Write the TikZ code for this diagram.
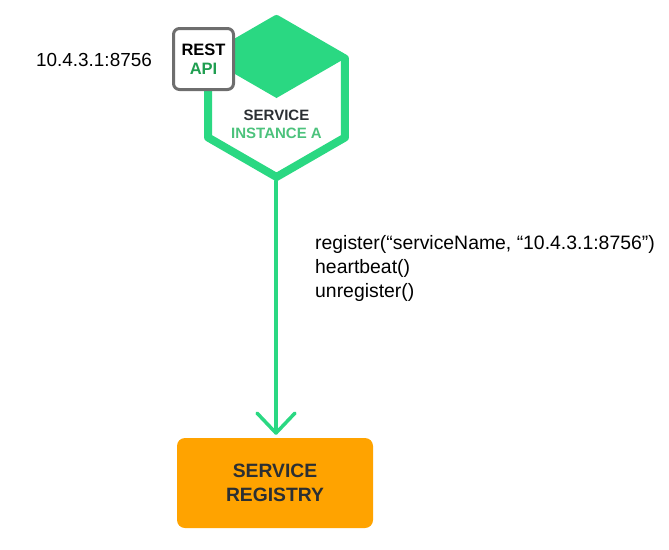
\documentclass[tikz,border=0pt]{standalone}
\usepackage{fontspec}
\setmainfont{Liberation Sans}
\usetikzlibrary{arrows.meta}
\definecolor{hexgreen}{HTML}{2AD882}
\definecolor{apigreen}{HTML}{1F9E50}
\definecolor{instgreen}{HTML}{4CC27C}
\definecolor{regorange}{HTML}{FFA300}
\definecolor{darktext}{HTML}{2B2F33}
\definecolor{boxgray}{HTML}{6E6E6E}
\tikzset{
  hexline/.style={draw=hexgreen, line width=8pt, line join=round},
  hexfill/.style={fill=hexgreen},
  restbox/.style={draw=boxgray, fill=white, line width=3pt, rounded corners=6pt, minimum width=60pt, minimum height=61pt, inner sep=0pt},
  regbox/.style={fill=regorange, rounded corners=8pt, minimum width=196pt, minimum height=90pt, inner sep=0pt},
  plain/.style={inner sep=0pt, anchor=base west, font=\fontsize{19.4}{22}\selectfont},
  conn/.style={draw=hexgreen, line width=3.5pt, line cap=round, -{Straight Barb[length=20pt,width=38pt,line width=3.5pt, round]}}
}
\begin{document}
\begin{tikzpicture}[x=1pt,y=-1pt]
\useasboundingbox (0,0) rectangle (669,549);
% hexagon
\coordinate (hc) at (276.5,98);
\coordinate (ht) at (276.5,19);
\coordinate (hur) at (344.9,58.5);
\coordinate (hlr) at (344.9,137.5);
\coordinate (hb) at (276.5,177);
\coordinate (hll) at (208.1,137.5);
\coordinate (hul) at (208.1,58.5);
\fill[hexfill, line join=round] (ht) -- (hur) -- (hc) -- (hul) -- cycle;
\draw[hexline] (ht) -- (hur) -- (hlr) -- (hb) -- (hll) -- (hul) -- cycle;
\node[inner sep=0pt, align=center, font=\bfseries\fontsize{15}{18}\selectfont] (svc) at (276.5,124.5)
  {\textcolor{darktext}{SERVICE}\\\textcolor{instgreen}{INSTANCE A}};
% REST API box
\node[restbox, align=center, font=\bfseries\fontsize{16.5}{19}\selectfont] (rest) at (203.5,59)
  {\textcolor{black}{REST}\\\textcolor{apigreen}{API}};
\node[plain, anchor=base east, font=\fontsize{18.9}{22}\selectfont] (addr) at (152,66) {10.4.3.1:8756};
% registry
\node[regbox, align=center, font=\bfseries\fontsize{19.3}{24}\selectfont, text=darktext] (reg) at (275,483)
  {SERVICE\\REGISTRY};
\coordinate (hbot) at (276,181);
\draw[conn] (hbot) -- ([xshift=1pt,yshift=3pt]reg.north);
% labels
\node[plain] (l1) at (315,249) {register(“serviceName, “10.4.3.1:8756”)};
\node[plain] (l2) at (315,273) {heartbeat()};
\node[plain] (l3) at (315,297) {unregister()};
\end{tikzpicture}
\end{document}
